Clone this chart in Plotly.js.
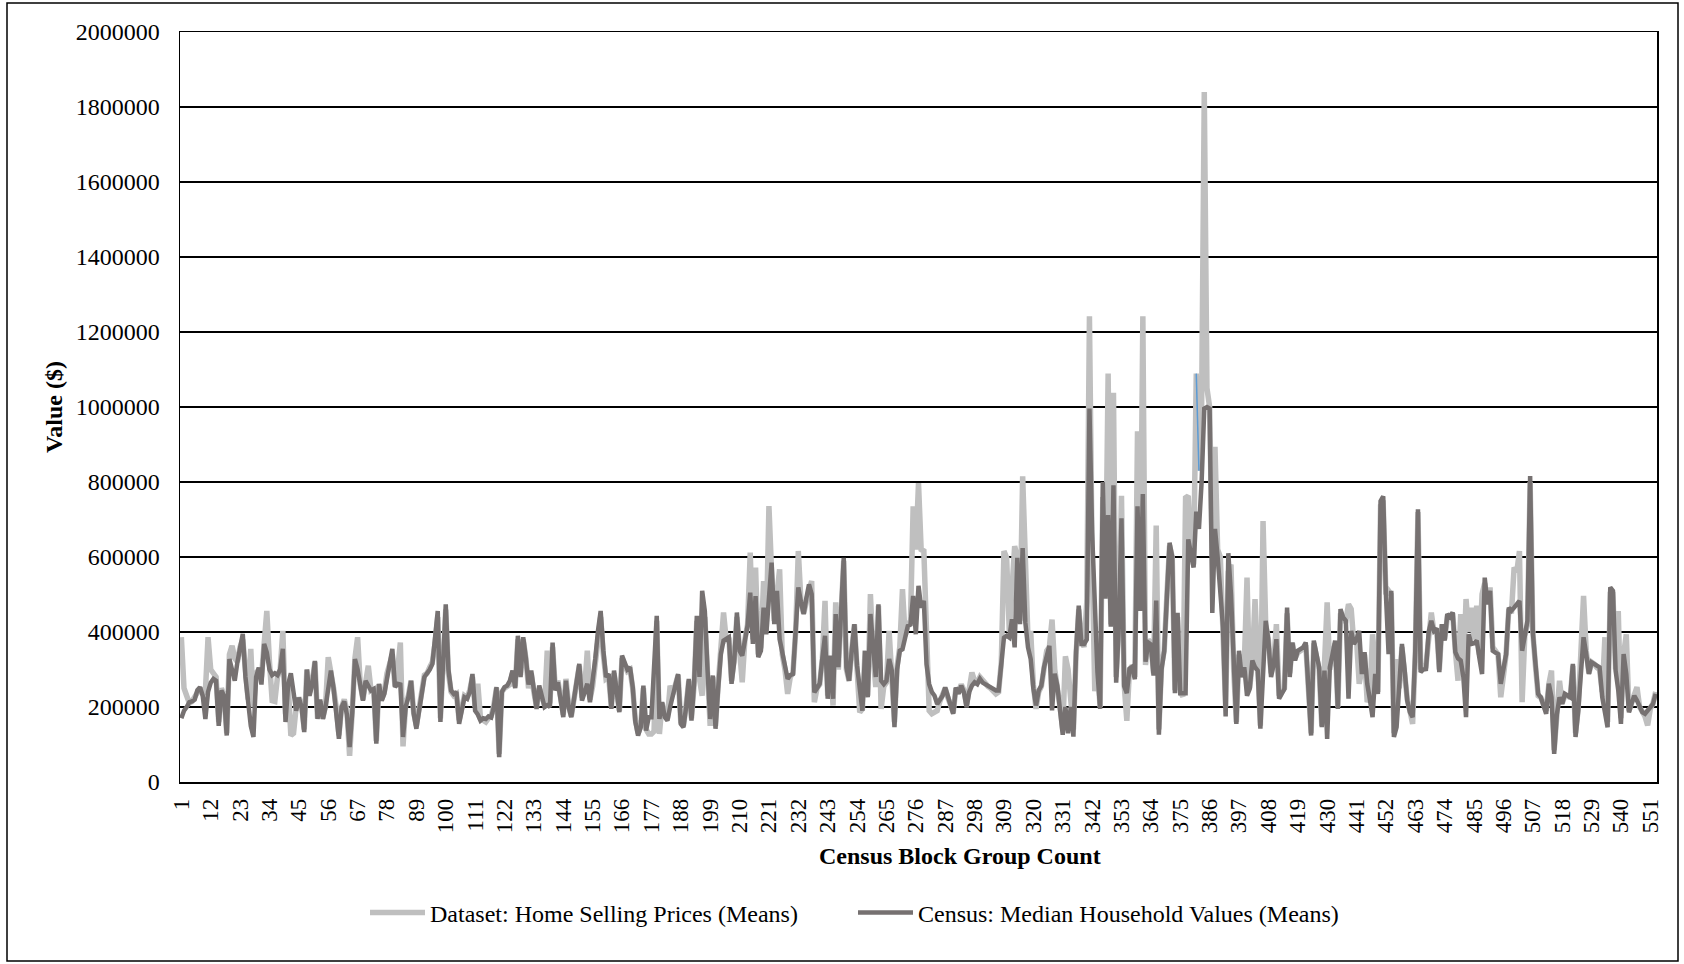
<!DOCTYPE html>
<html>
<head>
<meta charset="utf-8">
<script src="https://cdn.plot.ly/plotly-3.0.1.min.js"></script>
<style>html,body{margin:0;padding:0;background:#fff;}#chart{width:1684px;height:964px;}</style>
</head>
<body>
<div id="chart"></div>
<script>
// Values in thousands of dollars, one per census block group (1..553)
const censusMedianK = [
170,190,200,213,215,220,245,253,230,168,
240,265,275,270,150,244,230,124,328,300,
270,320,360,395,280,200,150,120,280,305,
260,368,345,300,285,290,285,300,355,160,
260,290,230,190,225,200,133,300,230,260,
323,168,220,168,200,260,297,250,190,115,
200,215,180,93,186,328,300,250,217,270,
255,244,248,102,262,217,235,280,315,355,
253,262,260,120,200,226,270,182,142,200,
235,280,288,300,315,380,456,160,300,474,
300,244,235,240,155,200,226,222,240,288,
190,180,164,170,168,175,172,200,253,66,
240,253,257,270,297,250,390,280,386,330,
260,297,235,195,257,222,200,205,200,372,
244,266,226,173,270,200,173,217,262,315,
217,240,262,213,262,330,403,456,350,280,
288,195,297,240,186,337,315,300,306,253,
160,124,146,257,137,173,173,300,443,168,
213,173,164,200,230,260,288,155,146,200,
275,164,266,443,280,510,456,300,168,284,
142,250,341,377,380,386,262,320,452,350,
337,380,417,505,368,496,333,350,465,394,
480,585,421,510,381,340,315,275,285,288,
403,519,480,448,490,527,501,239,250,262,
330,390,222,337,222,448,306,450,598,306,
270,350,421,310,240,190,350,226,448,350,
280,474,270,261,270,328,297,146,300,350,
354,385,416,420,496,394,523,465,483,314,
261,240,230,208,220,230,252,226,200,182,
252,235,257,239,199,240,257,266,261,275,
265,261,257,252,248,244,244,314,385,390,
385,434,359,598,421,624,425,359,328,250,
204,244,257,306,340,363,191,289,256,190,
126,200,130,200,121,349,470,368,368,380,
996,666,479,293,195,800,489,712,414,791,
265,414,703,256,237,302,307,274,735,456,
768,321,372,367,284,484,126,300,349,500,
638,600,237,451,237,237,237,647,609,572,
721,675,800,996,1000,996,451,675,600,512,
414,175,610,500,315,155,350,280,306,230,
248,324,306,297,142,300,430,377,280,315,
381,222,235,248,465,280,372,324,350,355,
359,372,260,124,377,340,306,146,297,115,
306,340,377,195,461,439,430,222,403,368,
380,403,288,346,262,220,173,288,235,749,
762,500,341,510,120,146,250,368,300,217,
186,173,350,727,293,300,301,399,430,403,
410,293,421,377,448,440,452,346,330,324,
280,173,394,368,370,377,330,288,545,474,
510,350,345,341,262,300,341,465,457,465,
474,483,350,400,430,816,400,315,235,226,
200,182,262,226,75,180,226,208,235,230,
226,315,120,190,300,386,341,288,319,315,
310,306,226,180,146,519,510,297,244,155,
341,288,186,210,230,217,200,186,182,190,
200,208,235
];

const homeSellingK = [
386,250,230,210,215,225,240,250,235,240,
386,300,290,280,160,250,230,130,340,363,
330,320,360,380,300,220,355,200,290,300,
280,380,456,320,217,215,280,300,403,180,
260,124,130,200,225,210,140,300,240,265,
320,170,215,170,205,333,300,250,200,125,
200,220,190,70,190,330,386,260,220,275,
310,245,250,110,260,220,240,290,320,340,
255,300,372,95,210,230,270,185,150,205,
240,285,290,306,320,370,440,170,300,460,
290,240,230,235,165,205,230,225,245,280,
200,262,170,165,160,170,175,205,250,75,
240,250,255,260,290,255,380,285,380,330,
250,290,240,200,250,225,205,350,210,360,
250,270,230,180,275,205,175,220,260,310,
225,250,350,220,255,320,390,440,340,275,
280,200,290,245,190,330,310,295,300,250,
165,130,150,250,140,128,128,135,430,128,
210,180,170,257,235,255,285,160,150,205,
270,170,260,430,275,230,440,290,150,280,
150,260,340,452,380,385,270,330,440,350,
266,380,420,612,380,572,340,360,536,400,
736,560,430,500,567,340,300,235,280,290,
400,616,480,450,490,510,536,213,250,260,
330,483,230,330,204,479,300,440,590,300,
270,350,420,300,186,195,350,230,501,340,
253,470,195,255,265,403,300,160,310,360,
514,390,420,430,735,620,797,620,616,330,
190,182,185,190,215,230,250,225,205,185,
250,240,260,245,205,250,292,270,265,280,
270,262,255,250,240,235,240,320,616,598,
400,536,629,600,430,815,607,380,403,260,
195,240,255,300,350,360,433,300,260,200,
140,335,300,210,140,340,460,380,360,480,
1242,600,242,300,200,760,500,1089,420,1038,
280,420,763,260,163,300,310,280,935,480,
1242,312,380,370,290,684,140,310,350,498,
630,600,245,440,240,228,758,763,620,580,
1089,830,1000,1840,1050,1000,600,894,620,600,
420,200,560,580,300,160,340,280,320,545,
250,320,488,300,150,696,420,380,290,320,
421,230,240,250,450,290,370,330,345,350,
355,365,270,130,370,340,300,150,300,479,
300,340,370,200,450,430,430,474,461,370,
380,262,300,340,213,230,394,290,240,736,
740,500,510,500,130,328,250,360,290,220,
190,155,340,720,300,310,310,400,452,400,
410,300,420,380,440,440,450,350,270,448,
290,488,400,465,380,470,340,501,530,480,
519,360,350,340,226,300,340,460,450,572,
560,616,213,390,420,800,400,310,230,225,
205,190,260,297,85,190,270,210,230,230,
225,310,130,195,320,496,350,290,320,315,
305,300,240,386,160,500,500,300,456,170,
340,394,190,215,235,253,200,185,175,151,
195,210,240
];

// short blue segment visible near the tallest spike (block groups 381-382)
const blueSegCats = [381, 382];
const blueSegK = [1089, 830];

const seriesNames = ["Dataset: Home Selling Prices (Means)", "Census: Median Household Values (Means)"];
const xTitle = "Census Block Group Count";
const yTitle = "Value ($)";

const categories = homeSellingK.map((_, i) => i + 1);
const tickVals = categories.filter(c => (c - 1) % 11 === 0);
const tickLabels = tickVals.map(String);

const FONT = "Liberation Serif";

const traces = [
  {
    x: categories, y: homeSellingK.map(v => v * 1000), type: "scatter", mode: "lines",
    name: seriesNames[0], line: {color: "#BFBFBF", width: 5.5, shape: "linear"}
  },
  {
    x: blueSegCats, y: blueSegK.map(v => v * 1000), type: "scatter", mode: "lines",
    showlegend: false, hoverinfo: "skip", line: {color: "#5B9BD5", width: 1.5}
  },
  {
    x: categories, y: censusMedianK.map(v => v * 1000), type: "scatter", mode: "lines",
    name: seriesNames[1], line: {color: "#767171", width: 4.5, shape: "linear"}
  }
];

const L = 180, R = 27, T = 32, B = 182, W = 1684, H = 964;
const pw = W - L - R, ph = H - T - B;
const px = v => (v - L) / pw;
const py = v => (H - B - v) / ph;

const layout = {
  width: W, height: H,
  margin: {l: L, r: R, t: T, b: B},
  paper_bgcolor: "#ffffff", plot_bgcolor: "#ffffff",
  font: {family: FONT, color: "#000000", size: 24},
  showlegend: true,
  legend: {
    orientation: "h", x: px(365), xanchor: "left", y: py(913), yanchor: "middle",
    font: {family: FONT, size: 24, color: "#000"}, itemwidth: 55, tracegroupgap: 0,
    entrywidth: 418, entrywidthmode: "pixels",
    bgcolor: "rgba(0,0,0,0)"
  },
  xaxis: {
    range: [0.5, categories.length + 0.5],
    tickmode: "array", tickvals: tickVals, ticktext: tickLabels, tickangle: -90,
    tickfont: {family: FONT, size: 23, color: "#000"},
    ticks: "", ticklabelstandoff: 6,
    showgrid: false, zeroline: false,
    showline: true, linecolor: "#000", linewidth: 1.5, mirror: true,
    automargin: false
  },
  yaxis: {
    range: [0, 2000000], dtick: 200000, tick0: 0, tickformat: "d",
    tickfont: {family: FONT, size: 24, color: "#000"},
    ticks: "", ticklabelstandoff: 14,
    showgrid: true, gridcolor: "#000", gridwidth: 1.4,
    zeroline: false,
    showline: true, linecolor: "#000", linewidth: 1.5, mirror: true,
    title: {text: "<b>" + yTitle + "</b>", font: {family: FONT, size: 24, color: "#000"}, standoff: 6},
    automargin: false
  },
  annotations: [
    {xref: "paper", yref: "paper", x: px(960), y: py(856), xanchor: "center", yanchor: "middle",
     text: "<b>" + xTitle + "</b>", showarrow: false, font: {family: FONT, size: 24, color: "#000"}}
  ],
  shapes: [
    {type: "rect", xref: "paper", yref: "paper",
     x0: px(7), x1: px(1678), y0: py(961), y1: py(3),
     line: {color: "#000", width: 1.5}, fillcolor: "rgba(0,0,0,0)", layer: "below"}
  ]
};

Plotly.newPlot("chart", traces, layout, {displayModeBar: false, staticPlot: true});
</script>
</body>
</html>
